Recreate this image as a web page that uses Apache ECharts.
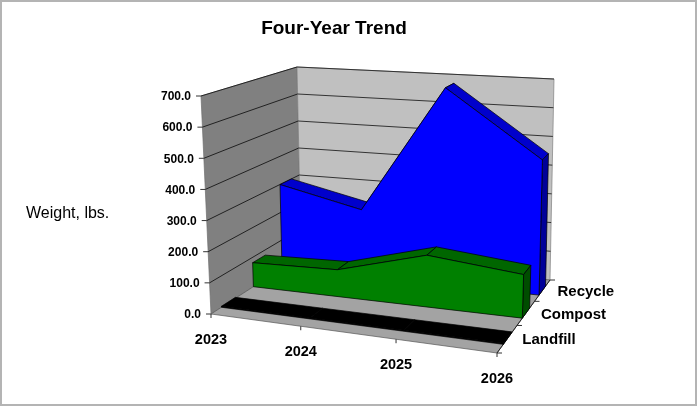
<!DOCTYPE html>
<html>
<head>
<meta charset="utf-8">
<style>html,body{margin:0;padding:0;background:#fff}#chart{width:697px;height:406px}</style>
<script src="https://cdn.jsdelivr.net/npm/echarts@6/dist/echarts.min.js"></script>
</head>
<body>
<div id="chart"></div>
<script>
var years = ['2023', '2024', '2025', '2026'];
var depthNames = ['Landfill', 'Compost', 'Recycle'];
var yTicks = [0, 100, 200, 300, 400, 500, 600, 700];
var yTickLabels = ['0.0', '100.0', '200.0', '300.0', '400.0', '500.0', '600.0', '700.0'];
var recycle = [300, 235, 680, 455];
var compost = [82, 90, 170, 140];
var landfill = [3, 3, 3, 3];

var font = '"Liberation Sans", Arial, sans-serif';

// box corners on screen: front-left, front-right, back-right, back-left
var floorQuad = [[211, 314], [497, 353], [550, 280], [301, 256]];
var topQuad = [[201, 96], [504, 121], [554, 79], [297, 67]];

function squareToQuad(q) {
  var sx = q[0][0] - q[1][0] + q[2][0] - q[3][0];
  var sy = q[0][1] - q[1][1] + q[2][1] - q[3][1];
  var dx1 = q[1][0] - q[2][0], dx2 = q[3][0] - q[2][0];
  var dy1 = q[1][1] - q[2][1], dy2 = q[3][1] - q[2][1];
  var den = dx1 * dy2 - dx2 * dy1;
  var g = (sx * dy2 - dx2 * sy) / den;
  var h = (dx1 * sy - sx * dy1) / den;
  return {
    a: q[1][0] - q[0][0] + g * q[1][0], b: q[3][0] - q[0][0] + h * q[3][0], c: q[0][0],
    d: q[1][1] - q[0][1] + g * q[1][1], e: q[3][1] - q[0][1] + h * q[3][1], f: q[0][1],
    g: g, h: h
  };
}
function applyH(m, u, v) {
  var w = m.g * u + m.h * v + 1;
  return [(m.a * u + m.b * v + m.c) / w, (m.d * u + m.e * v + m.f) / w];
}
var floorH = squareToQuad(floorQuad);
var topH = squareToQuad(topQuad);

// axis pixels -> 0..1 box position -> tilted screen position
function project(api, xi, val, z) {
  var p = api.coord([xi, val]);
  var u = p[0] / api.getWidth();
  u = u + 0.07 * u * (1 - u); // the quad overdoes the foreshortening along x
  var t = 1 - p[1] / api.getHeight();
  var a = applyH(floorH, u, z);
  var b = applyH(topH, u, z);
  return [a[0] + (b[0] - a[0]) * t, a[1] + (b[1] - a[1]) * t];
}
function poly(points, fill, stroke) {
  return { type: 'polygon', shape: { points: points }, style: { fill: fill, stroke: stroke || '#000', lineWidth: 0.7 } };
}
function seg(a, b, color, w) {
  return { type: 'line', shape: { x1: a[0], y1: a[1], x2: b[0], y2: b[1] }, style: { stroke: color, lineWidth: w || 1 } };
}
function label(x, y, str, size, weight, align) {
  return { type: 'text', style: { x: x, y: y, text: str, fill: '#000', font: weight + ' ' + size + 'px ' + font, textAlign: align || 'center', textVerticalAlign: 'middle' } };
}

function renderFrame(params, api) {
  if (params.dataIndex !== 0) return null;
  var kids = [];
  var n = years.length - 1;
  var fl = project(api, 0, 0, 0), fr = project(api, n, 0, 0), br = project(api, n, 0, 1), bl = project(api, 0, 0, 1);
  var tfl = project(api, 0, 700, 0), tbr = project(api, n, 700, 1), tbl = project(api, 0, 700, 1);
  kids.push(poly([fl, bl, tbl, tfl], '#808080', '#6e6e6e'));
  kids.push(poly([bl, br, tbr, tbl], '#c0c0c0', '#808080'));
  kids.push(poly([fl, fr, br, bl], '#a3a3a3', '#555'));
  for (var i = 0; i < yTicks.length; i++) {
    var a = project(api, 0, yTicks[i], 0), b = project(api, 0, yTicks[i], 1), c = project(api, n, yTicks[i], 1);
    if (i > 0) {
      kids.push(seg(a, b, '#222'));
      kids.push(seg(b, c, '#333'));
    }
    kids.push(seg(a, [a[0] - 5, a[1]], '#333'));
    kids.push(label(a[0] - 10, a[1] + 1, yTickLabels[i], 12, 'bold', 'right'));
  }
  for (var j = 0; j < years.length; j++) {
    var p = project(api, j, 0, 0);
    kids.push(seg(p, [p[0], p[1] + 4], '#333'));
    kids.push(label(p[0], p[1] + 26, years[j], 14.5, 'bold'));
  }
  // depth ticks on the right floor edge
  kids.push(seg(fr, br, '#222'));
  for (var k = 0; k <= depthNames.length; k++) {
    var q = project(api, n, 0, k / depthNames.length);
    kids.push(seg(q, [q[0] + 5, q[1]], '#333'));
    if (k < depthNames.length) {
      var m = project(api, n, 0, (k + 0.5) / depthNames.length);
      kids.push(label(m[0] + 15, m[1] + 1.5, depthNames[k], 15, 'bold', 'left'));
    }
  }
  return { type: 'group', children: kids };
}

function makeBand(zFront, zBack, front, topFace, side) {
  return function (params, api) {
    if (params.dataIndex !== 0) return null;
    var kids = [];
    var n = years.length - 1;
    var i, v0, v1;
    for (i = 0; i < n; i++) {
      v0 = api.value(1, i);
      v1 = api.value(1, i + 1);
      kids.push(poly([project(api, i, v0, zFront), project(api, i + 1, v1, zFront), project(api, i + 1, v1, zBack), project(api, i, v0, zBack)], topFace));
    }
    var vLast = api.value(1, n);
    kids.push(poly([project(api, n, 0, zFront), project(api, n, 0, zBack), project(api, n, vLast, zBack), project(api, n, vLast, zFront)], side));
    var pts = [project(api, 0, 0, zFront)];
    for (i = 0; i <= n; i++) pts.push(project(api, i, api.value(1, i), zFront));
    pts.push(project(api, n, 0, zFront));
    kids.push(poly(pts, front));
    return { type: 'group', children: kids };
  };
}
function rows(vals) {
  return vals.map(function (v, i) { return [i, v]; });
}

var chart = echarts.init(document.getElementById('chart'), null, { renderer: 'canvas' });
chart.setOption({
  animation: false,
  backgroundColor: '#fff',
  title: {
    text: 'Four-Year Trend', left: 329, top: 14, textAlign: 'center',
    textStyle: { fontFamily: font, fontSize: 19, fontWeight: 'bold', color: '#000' }
  },
  grid: { left: 0, right: 0, top: 0, bottom: 0 },
  xAxis: { type: 'value', min: 0, max: 3, show: false },
  yAxis: { type: 'value', min: 0, max: 700, show: false },
  graphic: [
    { type: 'rect', shape: { x: 1, y: 1, width: 695, height: 404 }, style: { fill: 'transparent', stroke: '#b4b4b4', lineWidth: 2 }, z: 10 },
    { type: 'text', style: { x: 26, y: 214, text: 'Weight, lbs.', fill: '#000', font: '16px ' + font, textVerticalAlign: 'middle' }, z: 10 }
  ],
  series: [
    { type: 'custom', name: 'frame', coordinateSystem: 'cartesian2d', clip: false, z: 1, renderItem: renderFrame, data: rows(recycle) },
    { type: 'custom', name: 'Recycle', coordinateSystem: 'cartesian2d', clip: false, z: 2, renderItem: makeBand(0.76, 0.9, '#0000ff', '#0000cc', '#000099'), data: rows(recycle) },
    { type: 'custom', name: 'Compost', coordinateSystem: 'cartesian2d', clip: false, z: 3, renderItem: makeBand(0.43, 0.57, '#008000', '#006600', '#004d00'), data: rows(compost) },
    { type: 'custom', name: 'Landfill', coordinateSystem: 'cartesian2d', clip: false, z: 4, renderItem: makeBand(0.1, 0.24, '#000', '#000', '#000'), data: rows(landfill) }
  ]
});
</script>
</body>
</html>
